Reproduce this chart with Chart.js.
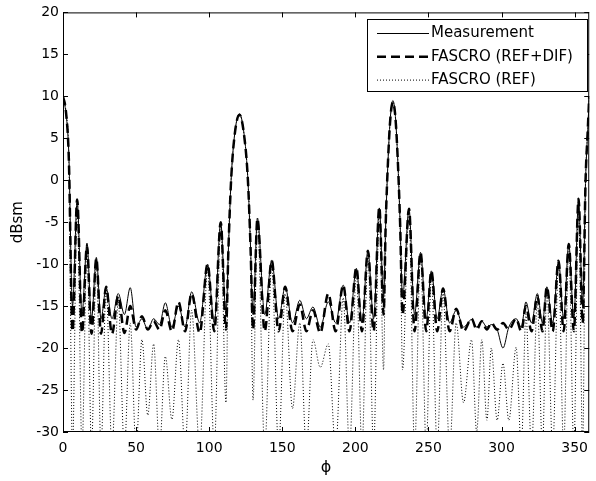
<!DOCTYPE html>
<html lang="en">
<head>
  <meta charset="UTF-8">
  <title>RCS versus phi</title>
  <script src="https://cdn.jsdelivr.net/npm/chart.js@4.4.1/dist/chart.umd.min.js"></script>
  <style>
    html, body { margin: 0; padding: 0; background: #fff; }
  </style>
</head>
<body>
  <canvas id="rcsChart" width="596" height="481"></canvas>

  <script>
    // angle (deg) of each sampled lobe top / null
    const phi = [
      0, 2, 4, 6.5, 9.7, 13, 16.4, 19.5, 22.8, 26,
      29.5, 33.5, 37.8, 42, 46, 50, 54, 58, 62, 66,
      70, 74.5, 79, 83.5, 88, 93.5, 98.9, 103.5, 107.9, 111.5,
      113.2, 115, 117.5, 120.7, 123.8, 126.5, 128.3, 130, 133, 138,
      142.8, 147.5, 152, 157, 162, 166.5, 171, 176, 181.5, 186.5,
      191.7, 196, 200.7, 204.5, 208.6, 212.5, 216.4, 219.3, 220.8, 222.4,
      224, 225.7, 227.4, 229, 230.6, 232.3, 236.7, 240.5, 244.6, 248.5,
      252, 256, 260, 264.5, 269, 274, 279.5, 283, 286.5, 290,
      293, 297, 301, 305, 310, 313.5, 316.7, 320.5, 324.5, 328,
      331, 335, 339, 342.5, 346, 349.5, 352.7, 355.5, 357.5, 359,
      360
    ];

    // dBsm values
    const measured = [
      9.8, 8, 3, -15, -2.5, -16, -7.5, -16.5, -9.2, -16.5,
      -12.8, -16.5, -13.5, -16, -12.8, -17.5, -16.5, -17.8, -16.5, -17.2,
      -14.6, -17.5, -15, -17.5, -13.3, -17, -10, -17, -5, -16,
      -8, 0, 5.6, 7.9, 5.6, 0, -8, -16, -4.5, -16,
      -9.5, -16.5, -12.7, -17, -14.3, -16.5, -15.1, -17.5, -14.5, -17,
      -12.5, -17, -10.5, -17, -8.4, -16.5, -3.3, -14, -5, 2.5,
      7.6, 9.5, 7.6, 2.5, -5, -14, -3.4, -16, -8.6, -16.5,
      -10.8, -16.5, -12.9, -17, -15.5, -17.5, -16.6, -17.5, -16.8, -17.5,
      -17.2, -17.8, -20, -17.5, -16.5, -17.5, -14.5, -17, -13.5, -17,
      -12.7, -17, -9.6, -16.5, -7.6, -16.5, -2.2, -15, 0, 6,
      9.8
    ];

    const refDif = [
      10, 8.2, 2.5, -18, -2.3, -18.2, -7.8, -18.3, -9.3, -18.3,
      -12.7, -18.3, -13.8, -18.2, -15, -17.8, -16.2, -17.8, -16.8, -17.8,
      -15.5, -18, -14.5, -18, -13.5, -18.2, -10, -18, -5, -17.8,
      -8, 0, 5.5, 7.8, 5.5, 0, -8, -17.8, -4.6, -18,
      -9.6, -18, -12.7, -18, -14.8, -18, -15.5, -18.2, -13.5, -18,
      -12.5, -18, -10.4, -18, -8.4, -18, -3.2, -16, -5, 2.5,
      7.5, 9.3, 7.5, 2.5, -5, -16, -3.4, -18, -8.6, -18,
      -10.8, -18, -12.9, -18, -15.3, -18, -16.5, -17.8, -16.8, -17.8,
      -17, -17.8, -17, -17.8, -16.5, -18, -15, -18, -13.8, -18,
      -12.7, -18, -9.6, -18, -7.6, -18, -2.2, -17, 0, 6,
      10
    ];

    const refOnly = [
      10, 8.2, 2.5, -32, -2.3, -32, -7.8, -32, -9.3, -32,
      -12.8, -32, -14.5, -32, -17, -32, -19, -28, -19.5, -32,
      -21, -28.5, -19, -32, -15.5, -32, -10.5, -32, -5.2, -26.5,
      -8, 0, 5.5, 7.8, 5.5, 0, -8, -26.2, -4.8, -32,
      -10, -32, -13.5, -27.2, -17, -32, -19, -22.3, -19.5, -32,
      -14, -32, -11, -32, -8.8, -32, -3.4, -22.6, -5, 2.5,
      7.5, 9.3, 7.5, 2.5, -5, -22.6, -3.5, -32, -8.8, -32,
      -11.2, -32, -13.5, -32, -17, -26.5, -19, -30, -19, -28.6,
      -20, -28.6, -21.8, -28.6, -19.9, -32, -16, -32, -14.5, -32,
      -13, -32, -10, -32, -7.8, -32, -2.3, -32, 0, 6,
      10
    ];

    const xTicks = [0, 50, 100, 150, 200, 250, 300, 350];
    const yTicks = [-30, -25, -20, -15, -10, -5, 0, 5, 10, 15, 20];

    const FAMILY = '"DejaVu Sans", sans-serif';

    function toPoints(xs, ys) {
      return xs.map((x, i) => ({ x: x, y: ys[i] }));
    }

    // matlab style box with inward ticks, plus the boxed legend
    const axesBox = {
      id: 'axesBox',
      afterDatasetsDraw(chart) {
        const { ctx, chartArea: a, scales } = chart;
        const len = 5;
        ctx.save();
        ctx.strokeStyle = '#000';
        ctx.lineWidth = 1;
        ctx.strokeRect(a.left + 0.5, a.top + 0.5, a.right - a.left - 1, a.bottom - a.top - 1);
        ctx.beginPath();
        xTicks.forEach(v => {
          const px = Math.round(scales.x.getPixelForValue(v)) + 0.5;
          ctx.moveTo(px, a.bottom); ctx.lineTo(px, a.bottom - len);
          ctx.moveTo(px, a.top); ctx.lineTo(px, a.top + len);
        });
        yTicks.forEach(v => {
          const py = Math.round(scales.y.getPixelForValue(v)) + 0.5;
          ctx.moveTo(a.left, py); ctx.lineTo(a.left + len, py);
          ctx.moveTo(a.right, py); ctx.lineTo(a.right - len, py);
        });
        ctx.stroke();

        // legend
        const bx = 367.5, by = 19.5, bw = 220, bh = 72;
        ctx.fillStyle = '#fff';
        ctx.fillRect(bx, by, bw, bh);
        ctx.strokeRect(bx, by, bw, bh);
        ctx.font = '15px ' + FAMILY;
        ctx.textBaseline = 'middle';
        chart.data.datasets.forEach((ds, i) => {
          const yy = 33.5 + i * 23.3;
          ctx.save();
          ctx.lineWidth = ds.borderWidth;
          ctx.setLineDash(ds.borderDash || []);
          ctx.beginPath();
          ctx.moveTo(377, yy);
          ctx.lineTo(429, yy);
          ctx.stroke();
          ctx.restore();
          ctx.fillStyle = '#000';
          ctx.fillText(ds.label, 431, yy);
        });
        ctx.restore();
      }
    };

    new Chart(document.getElementById('rcsChart'), {
      type: 'line',
      data: {
        datasets: [
          {
            label: 'Measurement',
            data: toPoints(phi, measured),
            borderColor: '#000',
            borderWidth: 1,
            pointRadius: 0,
            cubicInterpolationMode: 'monotone',
            clip: 0
          },
          {
            label: 'FASCRO (REF+DIF)',
            data: toPoints(phi, refDif),
            borderColor: '#000',
            borderWidth: 2.5,
            borderDash: [9, 5],
            pointRadius: 0,
            cubicInterpolationMode: 'monotone',
            clip: 0
          },
          {
            label: 'FASCRO (REF)',
            data: toPoints(phi, refOnly),
            borderColor: '#000',
            borderWidth: 1,
            borderDash: [1, 2],
            pointRadius: 0,
            cubicInterpolationMode: 'monotone',
            clip: 0
          }
        ]
      },
      options: {
        responsive: false,
        animation: false,
        layout: { padding: { top: 11, right: 1, left: 0, bottom: 0 } },
        plugins: {
          legend: { display: false },
          tooltip: { enabled: false }
        },
        scales: {
          x: {
            type: 'linear',
            min: 0,
            max: 360,
            afterBuildTicks: s => { s.ticks = xTicks.map(v => ({ value: v })); },
            afterFit: s => { s.height = 49; },
            grid: { display: false, drawTicks: false },
            border: { display: false },
            ticks: { color: '#000', font: { family: FAMILY, size: 14 }, padding: 8, maxRotation: 0 },
            title: {
              display: true,
              text: 'ϕ',
              color: '#000',
              font: { family: FAMILY, size: 16 },
              padding: { top: 0, bottom: 4 }
            }
          },
          y: {
            type: 'linear',
            min: -30,
            max: 20,
            afterBuildTicks: s => { s.ticks = yTicks.map(v => ({ value: v })); },
            afterFit: s => { s.width = 63; },
            grid: { display: false, drawTicks: false },
            border: { display: false },
            ticks: { color: '#000', font: { family: FAMILY, size: 14 }, padding: 4 },
            title: {
              display: true,
              text: 'dBsm',
              color: '#000',
              font: { family: FAMILY, size: 15 },
              padding: { top: 9, bottom: 0 }
            }
          }
        }
      },
      plugins: [axesBox]
    });
  </script>
</body>
</html>
